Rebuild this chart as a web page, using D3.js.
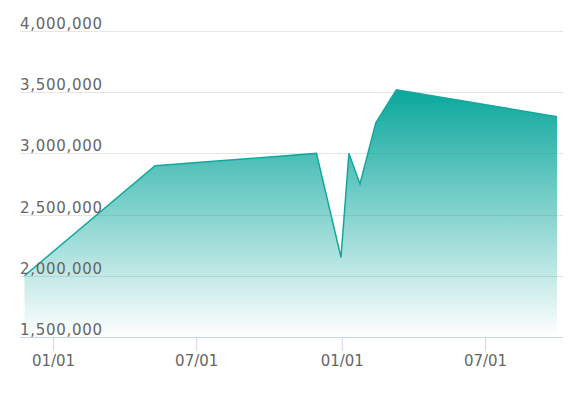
<!DOCTYPE html>
<html>
<head>
<meta charset="utf-8">
<script src="https://cdn.jsdelivr.net/npm/d3@7"></script>
<style>
  body { margin: 0; background: #fff; }
  text { font-family: "DejaVu Sans", sans-serif; fill: #666; }
</style>
</head>
<body>
<div id="container"></div>
<script>
// data
var dates = ["2017-11-26", "2018-05-10", "2018-11-30", "2018-12-31", "2019-01-10",
             "2019-01-24", "2019-02-13", "2019-03-11", "2019-09-30"];
var values = [2000000, 2900000, 3000000, 2150000, 3000000,
              2750000, 3250000, 3520000, 3300000];
var yTicks = [1500000, 2000000, 2500000, 3000000, 3500000, 4000000];
var xTicks = ["2018-01-01", "2018-07-01", "2019-01-01", "2019-07-01"];
var xTickLabels = ["01/01", "07/01", "01/01", "07/01"];

var width = 584, height = 393;
var plotLeft = 20, plotRight = 563, plotTop = 31, plotBottom = 337;

var parse = d3.utcParse("%Y-%m-%d");
var data = dates.map(function(d, i) { return { date: parse(d), value: values[i] }; });

var svg = d3.select("#container").append("svg")
  .attr("width", width)
  .attr("height", height);

// time scale pinned on the two visible year starts
var x = d3.scaleUtc()
  .domain([parse("2018-01-01"), parse("2019-07-01")])
  .range([53, 485]);

var y = d3.scaleLinear()
  .domain([1500000, 4000000])
  .range([plotBottom, plotTop]);

var defs = svg.append("defs");
var grad = defs.append("linearGradient")
  .attr("id", "fillGrad")
  .attr("x1", 0).attr("y1", 0).attr("x2", 0).attr("y2", 1);
grad.append("stop").attr("offset", "0%").attr("stop-color", "#0aa79c").attr("stop-opacity", 1);
grad.append("stop").attr("offset", "100%").attr("stop-color", "#0aa79c").attr("stop-opacity", 0);

// grid lines
svg.append("g")
  .selectAll("line")
  .data(yTicks.filter(function(d) { return d > 1500000; }))
  .enter()
  .append("line")
  .attr("x1", plotLeft)
  .attr("x2", plotRight)
  .attr("y1", function(d) { return Math.round(y(d)) + 0.5; })
  .attr("y2", function(d) { return Math.round(y(d)) + 0.5; })
  .style("stroke", "#e6e6e6")
  .style("stroke-width", 1);

// area + line
var area = d3.area()
  .x(function(d) { return x(d.date); })
  .y0(plotBottom)
  .y1(function(d) { return y(d.value); });

var line = d3.line()
  .x(function(d) { return x(d.date); })
  .y(function(d) { return y(d.value); });

svg.append("path")
  .datum(data)
  .attr("d", area)
  .attr("fill", "url(#fillGrad)");

svg.append("path")
  .datum(data)
  .attr("d", line)
  .style("fill", "none")
  .style("stroke", "#12a89d")
  .style("stroke-width", 1.5);

// y labels sit above their grid lines
svg.append("g")
  .selectAll("text")
  .data(yTicks)
  .enter()
  .append("text")
  .attr("x", plotLeft)
  .attr("y", function(d) { return y(d) - 2; })
  .style("font-size", "15px")
  .style("letter-spacing", "0.7px")
  .text(d3.format(","));

// x axis
var xAxis = d3.axisBottom(x)
  .tickValues(xTicks.map(parse))
  .tickSize(14)
  .tickFormat(function(d, i) { return xTickLabels[i]; });

var gx = svg.append("g")
  .attr("transform", "translate(0," + plotBottom + ")")
  .call(xAxis);

gx.select(".domain").remove();
gx.append("line")
  .attr("x1", plotLeft)
  .attr("x2", plotRight)
  .attr("y1", 0.5)
  .attr("y2", 0.5)
  .style("stroke", "#ccd6eb");
gx.selectAll(".tick line").style("stroke", "#ccd6eb");
gx.selectAll(".tick text")
  .attr("y", 29)
  .attr("dy", 0)
  .style("font-family", "DejaVu Sans, sans-serif")
  .style("font-size", "15px")
  .style("fill", "#666");
</script>
</body>
</html>
